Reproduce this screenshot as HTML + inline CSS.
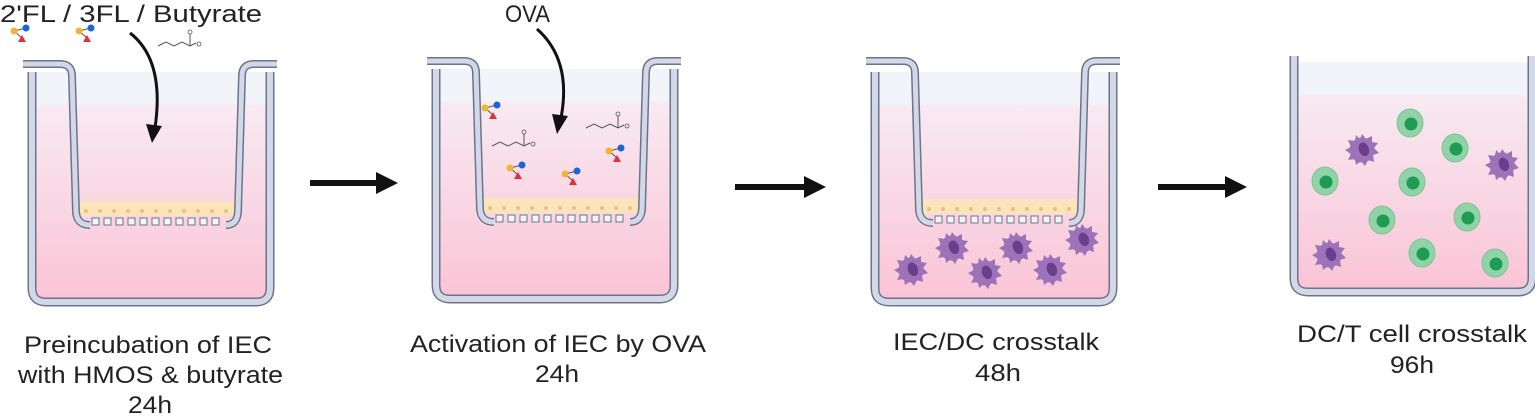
<!DOCTYPE html>
<html><head><meta charset="utf-8"><style>
html,body{margin:0;padding:0;background:#fff;width:1535px;height:416px;overflow:hidden}
svg{display:block}
text{font-family:"Liberation Sans",sans-serif;fill:#222}
</style></head><body>
<svg width="1535" height="416" viewBox="0 0 1535 416" xmlns="http://www.w3.org/2000/svg">
<defs>
<linearGradient id="liq" x1="0" y1="0" x2="0" y2="1">
<stop offset="0" stop-color="#f1f4f9"/><stop offset="0.14" stop-color="#f1f4f9"/>
<stop offset="0.15" stop-color="#f8eaf2"/><stop offset="1" stop-color="#fac4d6"/>
</linearGradient>
<symbol id="hmo" overflow="visible">
<line x1="0" y1="0" x2="12" y2="-3" stroke="#555" stroke-width="1"/>
<line x1="0" y1="0" x2="8" y2="7" stroke="#555" stroke-width="1"/>
<circle cx="0" cy="0" r="3.5" fill="#f2b530"/>
<circle cx="12" cy="-3" r="3.5" fill="#1f63d6"/>
<polygon points="8,4 12,11 4,11" fill="#e0303a"/>
</symbol>
<symbol id="but" overflow="visible">
<polyline points="0,8 8,4 16,8 24,4 32,8 38,5" fill="none" stroke="#555" stroke-width="1"/>
<line x1="32" y1="8" x2="32" y2="-4" stroke="#555" stroke-width="1"/>
<circle cx="32" cy="-6" r="2" fill="none" stroke="#555" stroke-width="0.8"/>
<circle cx="41" cy="6" r="2" fill="none" stroke="#555" stroke-width="0.8"/>
</symbol>
<symbol id="dc" overflow="visible">
<polygon points="0,-16 4,-11 10,-14 10,-8 16,-7 12,-2 17,3 11,5 12,12 6,10 3,16 -1,11 -6,15 -7,9 -14,10 -11,4 -17,0 -11,-3 -14,-10 -7,-9 -6,-15 -2,-11" fill="#9c72b8"/>
<circle r="12.5" fill="#9c72b8"/>
<ellipse cx="2" cy="0" rx="5" ry="7" transform="rotate(-20)" fill="#6b3d8c"/>
</symbol>
<symbol id="tc" overflow="visible">
<ellipse rx="13" ry="14" fill="#8fd3a6" stroke="#7cc497" stroke-width="1"/>
<circle cx="1" cy="1" r="6.5" fill="#1f9b55"/>
</symbol>
<g id="ins">
<rect x="0" y="0" width="160" height="15" fill="#fbe3bb"/>
<g fill="#e9c27e"><circle cx="8" cy="10" r="2"/><circle cx="22" cy="10" r="2"/><circle cx="36" cy="10" r="2"/><circle cx="50" cy="10" r="2"/><circle cx="64" cy="10" r="2"/><circle cx="78" cy="10" r="2"/><circle cx="92" cy="10" r="2"/><circle cx="106" cy="10" r="2"/><circle cx="120" cy="10" r="2"/><circle cx="134" cy="10" r="2"/><circle cx="148" cy="10" r="2"/></g>
<g fill="#f3f5fa" stroke="#6d7389" stroke-width="1"><rect x="14" y="17" width="7" height="7"/><rect x="26" y="17" width="7" height="7"/><rect x="38" y="17" width="7" height="7"/><rect x="50" y="17" width="7" height="7"/><rect x="62" y="17" width="7" height="7"/><rect x="74" y="17" width="7" height="7"/><rect x="86" y="17" width="7" height="7"/><rect x="98" y="17" width="7" height="7"/><rect x="110" y="17" width="7" height="7"/><rect x="122" y="17" width="7" height="7"/><rect x="134" y="17" width="7" height="7"/></g>
</g>
</defs>

<g>
<rect x="36" y="72" width="230" height="226" fill="url(#liq)"/>
<path d="M32,72 V288 Q32,302 46,302 H256 Q270,302 270,288 V72" fill="none" stroke="#6d7389" stroke-width="9"/>
<path d="M32,72 V288 Q32,302 46,302 H256 Q270,302 270,288 V72" fill="none" stroke="#d3d8e8" stroke-width="6"/>
<use href="#ins" x="78" y="201"/>
<path d="M23,64 H60 Q72,64 72,76 L76,212 Q77,225 90,225 M226,225 Q237,225 238,212 L242,76 Q242,64 254,64 H277" fill="none" stroke="#6d7389" stroke-width="8"/>
<path d="M23,64 H60 Q72,64 72,76 L76,212 Q77,225 90,225 M226,225 Q237,225 238,212 L242,76 Q242,64 254,64 H277" fill="none" stroke="#d3d8e8" stroke-width="5"/>
</g>
<g transform="translate(404,-3)">
<rect x="36" y="72" width="230" height="226" fill="url(#liq)"/>
<path d="M32,72 V288 Q32,302 46,302 H256 Q270,302 270,288 V72" fill="none" stroke="#6d7389" stroke-width="9"/>
<path d="M32,72 V288 Q32,302 46,302 H256 Q270,302 270,288 V72" fill="none" stroke="#d3d8e8" stroke-width="6"/>
<use href="#ins" x="78" y="201"/>
<path d="M23,64 H60 Q72,64 72,76 L76,212 Q77,225 90,225 M226,225 Q237,225 238,212 L242,76 Q242,64 254,64 H277" fill="none" stroke="#6d7389" stroke-width="8"/>
<path d="M23,64 H60 Q72,64 72,76 L76,212 Q77,225 90,225 M226,225 Q237,225 238,212 L242,76 Q242,64 254,64 H277" fill="none" stroke="#d3d8e8" stroke-width="5"/>
</g>
<g transform="translate(843,0)">
<rect x="36" y="72" width="230" height="226" fill="url(#liq)"/>
<path d="M32,72 V288 Q32,302 46,302 H256 Q270,302 270,288 V72" fill="none" stroke="#6d7389" stroke-width="9"/>
<path d="M32,72 V288 Q32,302 46,302 H256 Q270,302 270,288 V72" fill="none" stroke="#d3d8e8" stroke-width="6"/>
<use href="#ins" x="78" y="199"/>
<path d="M23,61 H60 Q72,61 72,73 L76,210 Q77,223 90,223 M226,223 Q237,223 238,210 L242,73 Q242,61 254,61 H277" fill="none" stroke="#6d7389" stroke-width="8"/>
<path d="M23,61 H60 Q72,61 72,73 L76,210 Q77,223 90,223 M226,223 Q237,223 238,210 L242,73 Q242,61 254,61 H277" fill="none" stroke="#d3d8e8" stroke-width="5"/>
</g>
<g transform="translate(1262,-10)">
<rect x="36" y="72" width="230" height="226" fill="url(#liq)"/>
<path d="M32,66 V288 Q32,302 46,302 H256 Q270,302 270,288 V66" fill="none" stroke="#6d7389" stroke-width="9"/>
<path d="M32,66 V288 Q32,302 46,302 H256 Q270,302 270,288 V66" fill="none" stroke="#d3d8e8" stroke-width="6"/>
</g>

<use href="#hmo" x="14" y="31"/>
<use href="#hmo" x="79" y="31"/>
<use href="#but" x="158" y="38"/>
<use href="#hmo" x="485" y="108"/>
<use href="#but" x="492" y="138"/>
<use href="#hmo" x="510" y="168"/>
<use href="#hmo" x="565" y="174"/>
<use href="#hmo" x="609" y="151"/>
<use href="#but" x="586" y="120"/>

<path d="M130,33 Q165,60 155,128" fill="none" stroke="#111" stroke-width="3"/>
<polygon points="146,124 162,126 152,143" fill="#111"/>
<path d="M537,29 Q572,60 561,118" fill="none" stroke="#111" stroke-width="3"/>
<polygon points="552,114 568,116 557,134" fill="#111"/>

<g fill="#111">
<rect x="310" y="180" width="70" height="6"/><polygon points="376,172 398,183 376,194"/>
<rect x="735" y="184" width="72" height="6"/><polygon points="804,176 826,187 804,198"/>
<rect x="1158" y="184" width="70" height="6"/><polygon points="1225,176 1247,187 1225,198"/>
</g>

<use href="#dc" x="911" y="270"/>
<use href="#dc" x="952" y="248"/>
<use href="#dc" x="985" y="273"/>
<use href="#dc" x="1016" y="248"/>
<use href="#dc" x="1050" y="270"/>
<use href="#dc" x="1082" y="240"/>
<use href="#dc" x="1362" y="150"/>
<use href="#dc" x="1502" y="165"/>
<use href="#dc" x="1329" y="255"/>
<use href="#tc" x="1410" y="123"/>
<use href="#tc" x="1455" y="148"/>
<use href="#tc" x="1325" y="181"/>
<use href="#tc" x="1412" y="182"/>
<use href="#tc" x="1382" y="220"/>
<use href="#tc" x="1467" y="217"/>
<use href="#tc" x="1422" y="253"/>
<use href="#tc" x="1495" y="263"/>

<text x="0" y="22" font-size="24" textLength="262" lengthAdjust="spacingAndGlyphs">2'FL / 3FL / Butyrate</text>
<text x="505" y="22" font-size="24" textLength="45" lengthAdjust="spacingAndGlyphs">OVA</text>
<g font-size="24">
<text x="24" y="353" textLength="248" lengthAdjust="spacingAndGlyphs">Preincubation of IEC</text>
<text x="18" y="383" textLength="265" lengthAdjust="spacingAndGlyphs">with HMOS &amp; butyrate</text>
<text x="128" y="413" textLength="44" lengthAdjust="spacingAndGlyphs">24h</text>
<text x="410" y="352" textLength="296" lengthAdjust="spacingAndGlyphs">Activation of IEC by OVA</text>
<text x="535" y="382" textLength="44" lengthAdjust="spacingAndGlyphs">24h</text>
<text x="893" y="350" textLength="206" lengthAdjust="spacingAndGlyphs">IEC/DC crosstalk</text>
<text x="975" y="381" textLength="46" lengthAdjust="spacingAndGlyphs">48h</text>
<text x="1297" y="342" textLength="230" lengthAdjust="spacingAndGlyphs">DC/T cell crosstalk</text>
<text x="1390" y="373" textLength="44" lengthAdjust="spacingAndGlyphs">96h</text>
</g>
</svg>
</body></html>
